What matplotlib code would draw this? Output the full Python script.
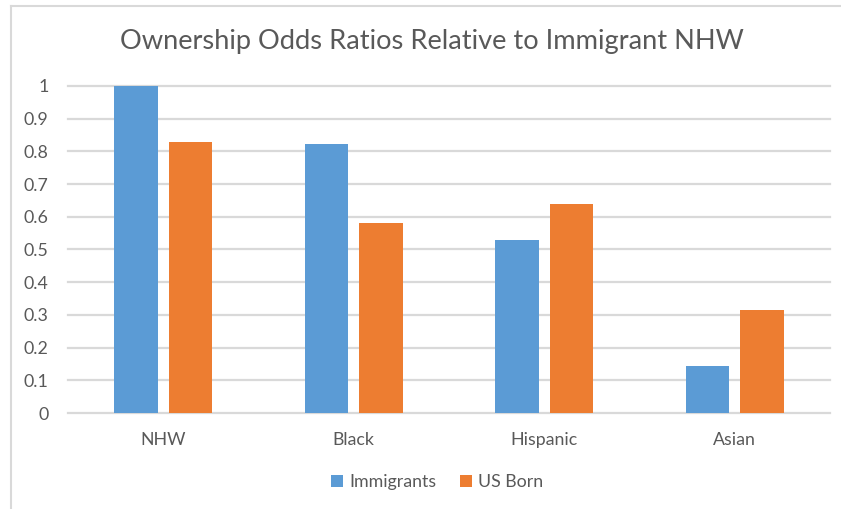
import matplotlib
matplotlib.use("Agg")
import matplotlib.pyplot as plt
from matplotlib.lines import Line2D
from matplotlib.patches import Patch
import numpy as np

categories = ["NHW", "Black", "Hispanic", "Asian"]
immigrants = [1.0, 0.824, 0.529, 0.145]
us_born = [0.83, 0.58, 0.639, 0.316]
series_names = ["Immigrants", "US Born"]
yticks = [0, 0.1, 0.2, 0.3, 0.4, 0.5, 0.6, 0.7, 0.8, 0.9, 1]
ytick_labels = ["0", "0.1", "0.2", "0.3", "0.4", "0.5", "0.6", "0.7", "0.8", "0.9", "1"]

blue = "#5B9BD5"
orange = "#ED7D31"
grey = "#595959"
gridc = "#D9D9D9"

plt.rcParams['font.family'] = ['Lato', 'DejaVu Sans']

fig = plt.figure(figsize=(8.41, 5.09), dpi=100)
ax = fig.add_axes([68/841, 96/509, (830-68)/841, (413-86)/509])

x = np.arange(len(categories))
w = 0.226
off = 0.143
ax.bar(x - off, immigrants, w, color=blue, zorder=3)
ax.bar(x + off, us_born, w, color=orange, zorder=3)

ax.set_xlim(-0.5, len(categories) - 0.5)
ax.set_ylim(0, 1)
ax.set_yticks(yticks)
ax.set_yticklabels(ytick_labels)
ax.set_xticks(x)
ax.set_xticklabels(categories)
ax.tick_params(axis='both', length=0, colors=grey, labelsize=12.8)
ax.tick_params(axis='y', pad=14)
ax.tick_params(axis='x', pad=14)
for s in ax.spines.values():
    s.set_visible(False)
ax.yaxis.grid(True, color=gridc, linewidth=1.6, zorder=0)
ax.set_axisbelow(True)
for gl in ax.get_ygridlines():
    gl.set_clip_on(False)

fig.text(432/841, 1 - 42/509, "Ownership Odds Ratios Relative to Immigrant NHW",
         ha='center', va='center', fontsize=19.6, color=grey)

handles = [Patch(facecolor=blue, edgecolor='none'), Patch(facecolor=orange, edgecolor='none')]
fig.legend(handles, series_names, loc='center', bbox_to_anchor=(437/841, 1 - 482/509),
           ncol=2, frameon=False, fontsize=12.8, labelcolor=grey,
           handlelength=0.7, handleheight=0.7, handletextpad=0.35, columnspacing=1.3)

# chart border (partly cropped in the reference)
fig.add_artist(Line2D([11/841, 11/841], [0, 1 - 6/509], color=gridc, linewidth=1.5))
fig.add_artist(Line2D([11/841, 1], [1 - 6/509, 1 - 6/509], color=gridc, linewidth=1.5))

fig.savefig("out.png", dpi=100)
